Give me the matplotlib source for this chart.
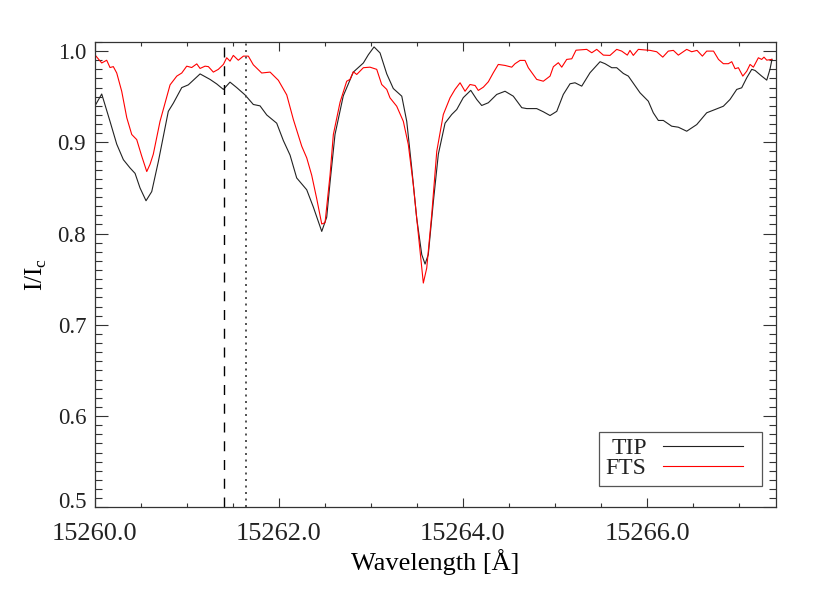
import numpy as np
import matplotlib
matplotlib.use("Agg")
import matplotlib.pyplot as plt
import matplotlib.transforms as mtransforms
from matplotlib.patches import Rectangle
from matplotlib.ticker import MultipleLocator, FormatStrFormatter

plt.rcParams['font.family'] = ['Liberation Serif', 'DejaVu Serif']
plt.rcParams['mathtext.fontset'] = 'custom'
plt.rcParams['mathtext.rm'] = 'Liberation Serif'
plt.rcParams['text.color'] = '#222222'

lam0 = 15260.0  # wavelength offsets below are in Angstrom above this

# TIP spectrum (black)
tip_dl = [0.005, 0.078, 0.168, 0.241, 0.313, 0.385, 0.440, 0.494, 0.559, 0.621,
          0.693, 0.801, 0.856, 0.947, 1.018, 1.146, 1.254, 1.327, 1.399, 1.471,
          1.544, 1.634, 1.724, 1.797, 1.870, 1.978, 2.050, 2.123, 2.195, 2.304,
          2.376, 2.467, 2.521, 2.557, 2.611, 2.701, 2.810, 2.919, 2.973, 3.035,
          3.100, 3.173, 3.244, 3.336, 3.390, 3.444, 3.498, 3.553, 3.589, 3.624,
          3.679, 3.733, 3.806, 3.878, 3.933, 4.004, 4.085, 4.150, 4.204, 4.276,
          4.367, 4.457, 4.547, 4.639, 4.693, 4.801, 4.873, 4.946, 5.019, 5.090,
          5.163, 5.217, 5.290, 5.380, 5.489, 5.543, 5.616, 5.670, 5.742, 5.796,
          5.923, 6.013, 6.067, 6.122, 6.176, 6.267, 6.339, 6.430, 6.539, 6.647,
          6.738, 6.828, 6.900, 6.973, 7.027, 7.082, 7.136, 7.172, 7.244, 7.299,
          7.334, 7.356]
tip_val = [0.940, 0.953, 0.923, 0.898, 0.881, 0.872, 0.866, 0.850, 0.836, 0.846,
           0.879, 0.934, 0.943, 0.960, 0.963, 0.975, 0.969, 0.964, 0.958, 0.966,
           0.960, 0.952, 0.9415, 0.940, 0.930, 0.921, 0.902, 0.886, 0.861, 0.848,
           0.829, 0.8024, 0.818, 0.856, 0.9086, 0.951, 0.977, 0.987, 0.996, 1.0046,
           0.998, 0.975, 0.959, 0.9506, 0.923, 0.872, 0.817, 0.777, 0.7666, 0.777,
           0.835, 0.887, 0.921, 0.9305, 0.936, 0.949, 0.957, 0.947, 0.9404, 0.9434,
           0.9525, 0.956, 0.9506, 0.938, 0.937, 0.937, 0.9335, 0.9294, 0.934, 0.9525,
           0.9642, 0.9653, 0.9616, 0.9763, 0.9884, 0.9862, 0.9818, 0.9818, 0.9755, 0.9726,
           0.9543, 0.9451, 0.9324, 0.924, 0.924, 0.9177, 0.9166, 0.9122, 0.9195, 0.9324,
           0.936, 0.9396, 0.947, 0.958, 0.9598, 0.9708, 0.980, 0.9788, 0.9726, 0.9682,
           0.980, 0.991]

# FTS atlas (red)
fts_dl = [0.016, 0.078, 0.132, 0.168, 0.204, 0.241, 0.295, 0.350, 0.404, 0.458,
          0.512, 0.567, 0.603, 0.638, 0.711, 0.820, 0.893, 0.947, 1.001, 1.055,
          1.110, 1.146, 1.200, 1.236, 1.290, 1.344, 1.399, 1.435, 1.471, 1.507,
          1.561, 1.616, 1.670, 1.724, 1.815, 1.906, 1.996, 2.087, 2.159, 2.250,
          2.304, 2.358, 2.413, 2.467, 2.503, 2.557, 2.593, 2.666, 2.738, 2.774,
          2.810, 2.847, 2.919, 2.991, 3.064, 3.118, 3.173, 3.208, 3.281, 3.353,
          3.407, 3.461, 3.516, 3.570, 3.607, 3.661, 3.716, 3.787, 3.860, 3.914,
          3.969, 4.023, 4.077, 4.132, 4.167, 4.222, 4.276, 4.330, 4.384, 4.457,
          4.530, 4.566, 4.620, 4.674, 4.710, 4.801, 4.873, 4.946, 4.982, 5.036,
          5.073, 5.127, 5.182, 5.228, 5.344, 5.399, 5.453, 5.525, 5.597, 5.670,
          5.724, 5.785, 5.814, 5.850, 5.905, 6.032, 6.104, 6.170, 6.230, 6.285,
          6.339, 6.430, 6.484, 6.542, 6.600, 6.647, 6.721, 6.775, 6.828, 6.882,
          6.919, 6.955, 6.991, 7.039, 7.082, 7.118, 7.154, 7.208, 7.244, 7.269,
          7.299, 7.353]
fts_val = [0.9945, 0.987, 0.990, 0.982, 0.983, 0.976, 0.956, 0.927, 0.9086, 0.903,
           0.885, 0.868, 0.876, 0.887, 0.923, 0.963, 0.9726, 0.976, 0.9835, 0.982,
           0.986, 0.981, 0.9835, 0.983, 0.977, 0.980, 0.9854, 0.9927, 0.989, 0.9953,
           0.990, 0.9945, 0.9945, 0.985, 0.976, 0.977, 0.968, 0.952, 0.925, 0.8957,
           0.883, 0.864, 0.838, 0.8105, 0.812, 0.864, 0.9086, 0.944, 0.967, 0.969,
           0.9774, 0.9744, 0.9818, 0.9824, 0.980, 0.9634, 0.958, 0.9488, 0.9396, 0.923,
           0.8976, 0.8537, 0.7988, 0.7458, 0.7622, 0.8207, 0.8902, 0.9305, 0.9488, 0.958,
           0.9653, 0.956, 0.9634, 0.9623, 0.9569, 0.9605, 0.9664, 0.9763, 0.9854, 0.9843,
           0.9824, 0.9862, 0.9898, 0.9898, 0.9818, 0.969, 0.967, 0.9726, 0.9829, 0.9873,
           0.9824, 0.9909, 0.9916, 1.001, 1.0019, 0.9982, 1.0019, 0.9956, 0.9953, 1.0019,
           1.0, 0.9956, 1.0008, 0.9953, 1.0019, 1.0008, 0.9993, 0.9934, 1.0, 1.0008,
           0.9956, 1.0019, 0.9993, 1.0008, 0.9945, 1.0, 1.0, 0.9909, 0.9862, 0.9862,
           0.9884, 0.9807, 0.9818, 0.9726, 0.978, 0.9854, 0.9824, 0.9927, 0.9909, 0.9934,
           0.9901, 0.9909]

line_dashed = 15261.41
line_dotted = 15261.65

xticks = [15260, 15262, 15264, 15266]
yticks = [0.5, 0.6, 0.7, 0.8, 0.9, 1.0]

fig = plt.figure(figsize=(8.3, 5.93), dpi=100)
ax = fig.add_axes([0.1139, 0.1445, 0.8211, 0.7847])

ax.plot(lam0 + np.array(tip_dl), tip_val, color='#222222', lw=0.8, label='TIP')
ax.plot(lam0 + np.array(fts_dl), fts_val, color='#ff0000', lw=0.8, label='FTS')
ax.axvline(line_dashed, color='black', lw=1.0, dashes=(7.2, 6.3))
ax.axvline(line_dotted, color='#444444', lw=1.3, dashes=(1.1, 2.5))

ax.set_xlim(15260, 15267.40)
ax.set_ylim(0.5, 1.01)
ax.set_xticks(xticks)
ax.set_yticks(yticks)
ax.xaxis.set_minor_locator(MultipleLocator(0.5))
ax.yaxis.set_minor_locator(MultipleLocator(0.01))
ax.xaxis.set_major_formatter(FormatStrFormatter('%.1f'))
ax.yaxis.set_major_formatter(FormatStrFormatter('%.1f'))

ax.tick_params(which='both', direction='in', top=True, right=True, color='#333333',
               labelcolor='#222222')
ax.tick_params(axis='x', which='major', length=6.5, width=0.8, pad=11, labelsize=19)
ax.tick_params(axis='x', which='minor', length=3.2, width=0.8)
ax.tick_params(axis='y', which='major', length=9.4, width=0.8, pad=6, labelsize=16.5)
ax.tick_params(axis='y', which='minor', length=5, width=0.8)
for s in ax.spines.values():
    s.set_linewidth(0.9)
    s.set_color('#333333')

# bottom y label sits a bit higher than its tick
lab = ax.yaxis.get_major_ticks()[0].label1
lab.set_transform(lab.get_transform() + mtransforms.ScaledTranslation(0, 7 / 100, fig.dpi_scale_trans))

ax.set_xlabel('Wavelength [Å]', fontsize=19, labelpad=3)
ax.set_ylabel(r'I/I$_{\rm c}$', fontsize=18, labelpad=6)

# legend: text right-aligned before the line, plain square box around it
leg = ax.legend(loc='center right', bbox_to_anchor=(0.9516, 0.1049), borderaxespad=0,
                markerfirst=False, handlelength=3.4, fontsize=17, frameon=False,
                labelspacing=-0.05, borderpad=0, handletextpad=0.68)
ax.add_patch(Rectangle((0.7407, 0.0458), 0.2393, 0.1154, transform=ax.transAxes,
                       facecolor='white', edgecolor='#555555', lw=0.9, zorder=4))
leg.set_zorder(5)

fig.savefig('out.png', dpi=100)
